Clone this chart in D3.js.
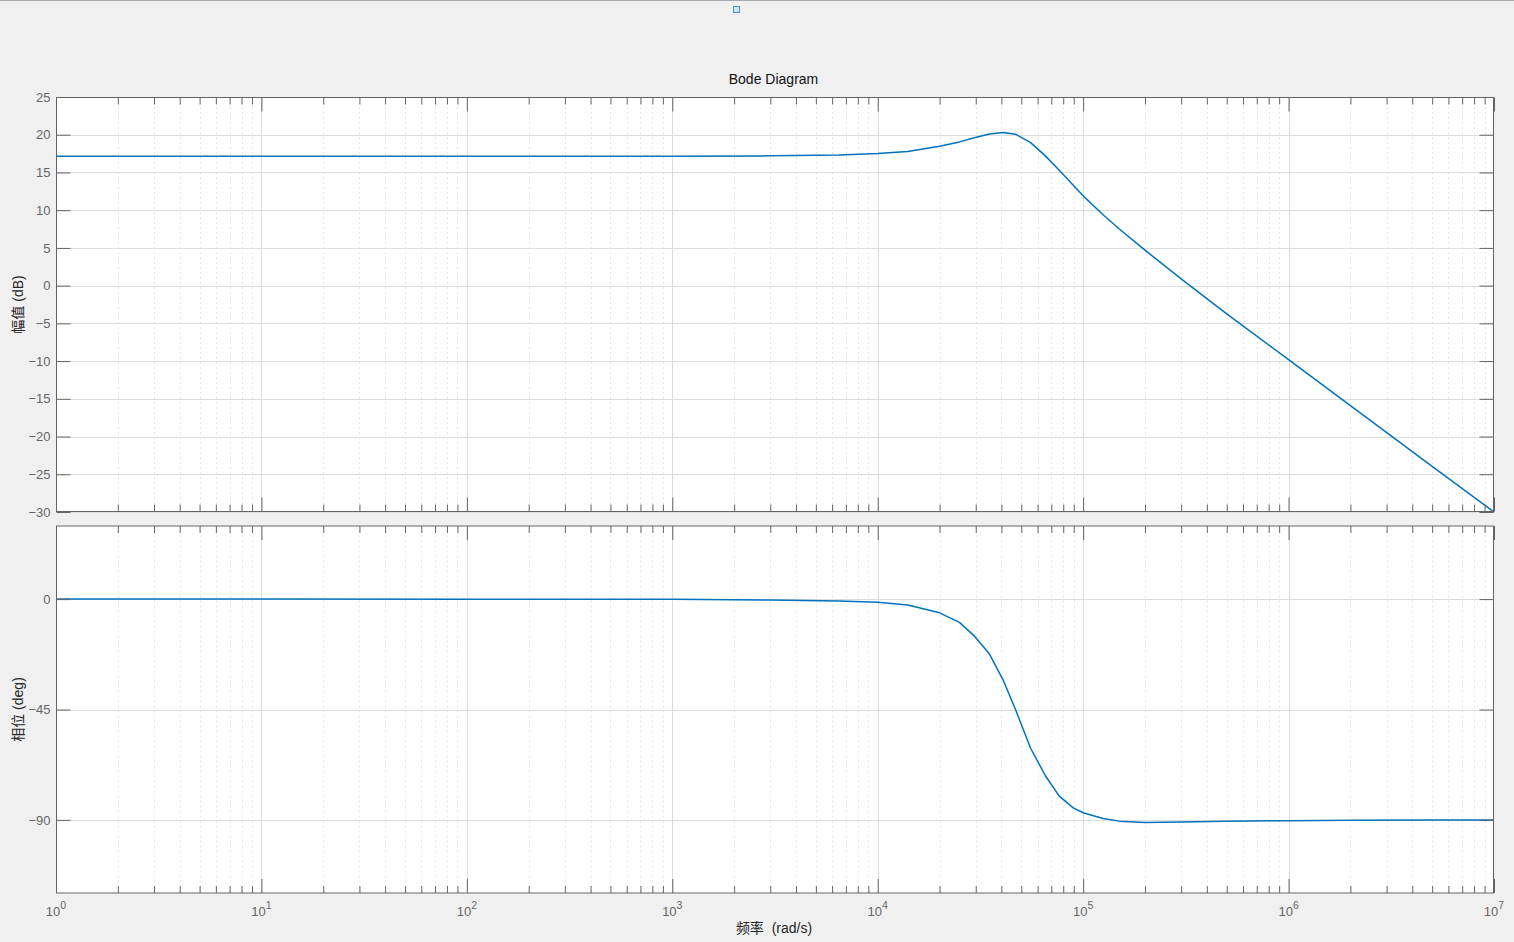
<!DOCTYPE html>
<html><head><meta charset="utf-8">
<script src="https://cdn.jsdelivr.net/npm/d3@7"></script>
<style>
html,body{margin:0;padding:0;background:#f0f0f0;}
svg{display:block;}
text{font-family:"Liberation Sans",Arial,Helvetica,sans-serif;}
.cjk{font-family:"Liberation Sans","Noto Sans CJK SC",sans-serif;}
</style></head><body>
<script>
// ---- data ----
const freqs   = [1, 10, 100, 1000, 3000, 6500, 10000, 14000, 20000, 25000, 29500, 35000, 40800, 47000, 55500, 65500, 76500, 89500, 100000, 125000, 150000, 200000, 300000, 500000, 1e6, 2e6, 5e6, 1e7];
const magDb   = [17.14, 17.14, 17.14, 17.15, 17.2, 17.3, 17.5, 17.78, 18.46, 19.05, 19.6, 20.1, 20.3, 20.05, 18.95, 17.2, 15.3, 13.3, 11.9, 9.4, 7.5, 4.7, 0.9, -3.75, -9.8, -15.9, -23.95, -30];
const phaseDeg= [0, 0, -0.01, -0.1, -0.35, -0.8, -1.3, -2.4, -5.6, -9.5, -15, -22.4, -33, -45.3, -60.8, -72, -80.3, -85.1, -87.1, -89.4, -90.5, -91.1, -90.9, -90.6, -90.3, -90.1, -90.04, -90.02];
const magTicks   = [25, 20, 15, 10, 5, 0, -5, -10, -15, -20, -25, -30];
const phaseTicks = [0, -45, -90];
const decadeExps = [0, 1, 2, 3, 4, 5, 6, 7];
const titleText = "Bode Diagram";
const magLabel = "幅值 (dB)";
const phaseLabel = "相位 (deg)";
const xLabel = "频率  (rad/s)";

// ---- layout ----
const W = 1514, H = 942;
const L = 56, R = 1494;
const magTop = 97, magBot = 512;
const phTop = 525.5, phBot = 893.5;
const axisCol = "#646464", gridCol = "#dcdcdc", minorCol = "#e6e6e6", lineCol = "#0072BD";
const majorLen = 14, minorLen = 7;

const svg = d3.select("body").append("svg").attr("width", W).attr("height", H);
svg.append("rect").attr("width", W).attr("height", H).attr("fill", "#f0f0f0");
svg.append("line").attr("x1", 0).attr("x2", W).attr("y1", 0.5).attr("y2", 0.5).attr("stroke", "#a8a8a8");
svg.append("rect").attr("x", 733.5).attr("y", 6.5).attr("width", 6).attr("height", 6)
   .attr("fill", "#cfe6f8").attr("stroke", "#4a90d0").attr("stroke-width", 1);

const x = d3.scaleLog().domain([1, 1e7]).range([L, R]);
const yMag = d3.scaleLinear().domain([-30, 25]).range([magBot, magTop]);
const yPh = d3.scaleLinear().domain([-120, 30]).range([phBot, phTop]);

const minorVals = [];
decadeExps.slice(0, -1).forEach(e => { for (let k = 2; k <= 9; k++) minorVals.push(k * Math.pow(10, e)); });
const majorVals = decadeExps.map(e => Math.pow(10, e));

function panel(y, top, bot, yTicks, values) {
  const g = svg.append("g");
  g.append("rect").attr("x", L).attr("y", top).attr("width", R - L).attr("height", bot - top).attr("fill", "#fff");
  // minor vertical grid
  g.selectAll(".mg").data(minorVals).enter().append("line")
    .attr("x1", d => Math.round(x(d)) + 0.5).attr("x2", d => Math.round(x(d)) + 0.5)
    .attr("y1", top).attr("y2", bot).attr("stroke", minorCol).attr("stroke-dasharray", "2,3");
  // major grid
  g.selectAll(".Mg").data(majorVals.slice(1, -1)).enter().append("line")
    .attr("x1", d => Math.round(x(d)) + 0.5).attr("x2", d => Math.round(x(d)) + 0.5)
    .attr("y1", top).attr("y2", bot).attr("stroke", gridCol);
  g.selectAll(".hg").data(yTicks).enter().append("line")
    .attr("x1", L).attr("x2", R)
    .attr("y1", d => Math.round(y(d)) + 0.5).attr("y2", d => Math.round(y(d)) + 0.5).attr("stroke", gridCol);
  // curve
  const line = d3.line().x((d, i) => x(freqs[i])).y(d => y(d)).curve(d3.curveLinear);
  g.append("path").datum(values).attr("d", line).attr("fill", "none")
    .attr("stroke", lineCol).attr("stroke-width", 1.5).attr("stroke-linejoin", "round");
  // y axes (left & right), inward ticks
  const yl = g.append("g").attr("transform", `translate(${L + 0.5},0)`)
    .call(d3.axisLeft(y).tickValues(yTicks).tickSizeInner(-majorLen).tickSizeOuter(0).tickPadding(6).tickFormat(d3.format("d")));
  yl.selectAll("text").attr("fill", "#666").attr("font-size", "13px");
  const yr = g.append("g").attr("transform", `translate(${R - 0.5},0)`)
    .call(d3.axisRight(y).tickValues(yTicks).tickSizeInner(-majorLen).tickSizeOuter(0).tickFormat(""));
  [yl, yr].forEach(a => { a.selectAll("line").attr("stroke", axisCol); a.select(".domain").remove(); });
  // x ticks top & bottom
  const xb = g.append("g").attr("transform", `translate(0,${bot - 0.5})`)
    .call(d3.axisBottom(x).tickValues(majorVals).tickSizeInner(-majorLen).tickSizeOuter(0).tickFormat(""));
  const xt = g.append("g").attr("transform", `translate(0,${top + 0.5})`)
    .call(d3.axisTop(x).tickValues(majorVals).tickSizeInner(-majorLen).tickSizeOuter(0).tickFormat(""));
  const xbm = g.append("g").attr("transform", `translate(0,${bot - 0.5})`)
    .call(d3.axisBottom(x).tickValues(minorVals).tickSizeInner(-minorLen).tickSizeOuter(0).tickFormat(""));
  const xtm = g.append("g").attr("transform", `translate(0,${top + 0.5})`)
    .call(d3.axisTop(x).tickValues(minorVals).tickSizeInner(-minorLen).tickSizeOuter(0).tickFormat(""));
  [xb, xt, xbm, xtm].forEach(a => { a.selectAll("line").attr("stroke", axisCol); a.select(".domain").remove(); });
  // box
  g.append("rect").attr("x", L + 0.5).attr("y", top + 0.5).attr("width", R - L - 1).attr("height", bot - top - 1)
    .attr("fill", "none").attr("stroke", axisCol);
  return g;
}

panel(yMag, magTop, magBot, magTicks, magDb);
panel(yPh, phTop, phBot, phaseTicks, phaseDeg);

// x tick labels with superscripts
const xl = svg.append("g");
decadeExps.forEach(e => {
  const t = xl.append("text").attr("x", x(Math.pow(10, e))).attr("y", 916)
    .attr("text-anchor", "middle").attr("fill", "#666").attr("font-size", "13px");
  t.append("tspan").text("10");
  t.append("tspan").attr("dy", -7).attr("font-size", "10.5px").text(String(e));
});

// title and axis labels
svg.append("text").attr("x", 773.5).attr("y", 84).attr("text-anchor", "middle")
  .attr("font-size", "14px").attr("fill", "#111").text(titleText);
svg.append("text").attr("class", "cjk").attr("x", 774).attr("y", 933).attr("text-anchor", "middle")
  .attr("font-size", "14px").attr("fill", "#262626").attr("xml:space", "preserve").style("white-space", "pre").text(xLabel);
svg.append("text").attr("class", "cjk").attr("transform", `translate(23,${(magTop + magBot) / 2}) rotate(-90)`)
  .attr("text-anchor", "middle").attr("font-size", "14px").attr("fill", "#262626").text(magLabel);
svg.append("text").attr("class", "cjk").attr("transform", `translate(23,${(phTop + phBot) / 2}) rotate(-90)`)
  .attr("text-anchor", "middle").attr("font-size", "14px").attr("fill", "#262626").text(phaseLabel);
</script>
</body></html>
